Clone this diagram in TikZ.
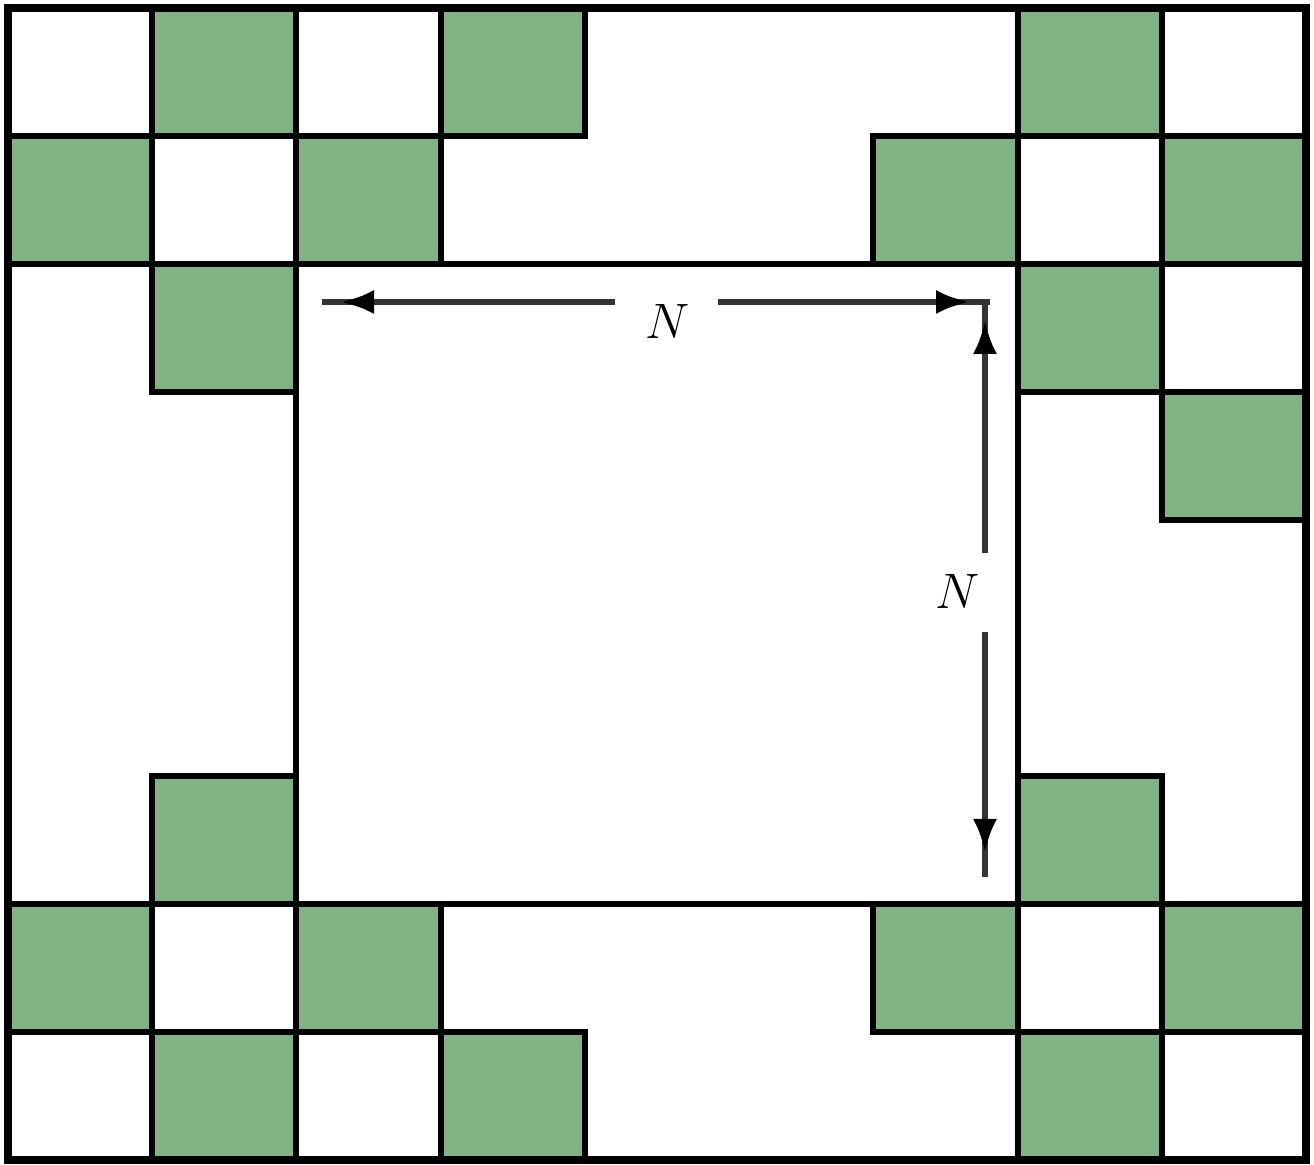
\documentclass[tikz,border=0pt]{standalone}
\usetikzlibrary{arrows.meta}
\definecolor{cellgreen}{RGB}{128,179,131}
\begin{document}
\begin{tikzpicture}[x=0.5pt,y=-0.5pt,
  gridline/.style={line width=3pt,black},
  frameline/.style={line width=4.2pt,black},
  shaft/.style={line width=3pt,black!80},
  tipline/.style={line width=3pt,black!80,-{Latex[length=17pt,width=12pt,color=black]}},
  lbl/.style={font=\fontsize{28}{28}\selectfont,inner sep=0pt}]
\useasboundingbox (0,0) rectangle (1314,1165);
\fill[white] (0,0) rectangle (1314,1165);
\def\cw{144.222}
\def\rh{128}
% green cell fills
\foreach \c/\r in {1/0,3/0,7/0, 0/1,2/1,6/1,8/1, 1/2,7/2, 8/3, 1/6,7/6, 0/7,2/7,6/7,8/7, 1/8,3/8,7/8}
  \fill[cellgreen] ({8+\c*\cw},{8+\r*\rh}) rectangle ++(\cw,\rh);
% borders of all bordered cells
\foreach \c/\r in {0/0,1/0,2/0,3/0,7/0,8/0, 0/1,1/1,2/1,6/1,7/1,8/1, 1/2,7/2,8/2, 8/3, 1/6,7/6, 0/7,1/7,2/7,6/7,7/7,8/7, 0/8,1/8,2/8,3/8,7/8,8/8}
  \draw[gridline] ({8+\c*\cw},{8+\r*\rh}) rectangle ++(\cw,\rh);
% inner square
\draw[gridline] ({8+2*\cw},{8+2*\rh}) rectangle ({8+7*\cw},{8+7*\rh});
% outer frame
\draw[frameline] (8,8) rectangle ({8+9*\cw},{8+9*\rh});
% horizontal dimension
\coordinate (hl) at (322,302);
\coordinate (hlt) at (340,302);
\coordinate (hls) at (615,302);
\coordinate (hr) at (990,302);
\coordinate (hrt) at (970,302);
\coordinate (hrs) at (718,302);
\node[lbl] (hN) at (668,322) {$N$};
\draw[shaft] (hls) -- (hl);
\draw[tipline] (hls) -- (hlt);
\draw[shaft] (hrs) -- (hr);
\draw[tipline] (hrs) -- (hrt);
% vertical dimension
\coordinate (vt) at (985,303);
\coordinate (vtt) at (985,320);
\coordinate (vts) at (985,553);
\coordinate (vb) at (985,877);
\coordinate (vbt) at (985,853);
\coordinate (vbs) at (985,632);
\node[lbl] (vN) at (958,592) {$N$};
\draw[shaft] (vts) -- (vt);
\draw[tipline] (vts) -- (vtt);
\draw[shaft] (vbs) -- (vb);
\draw[tipline] (vbs) -- (vbt);
\end{tikzpicture}
\end{document}
